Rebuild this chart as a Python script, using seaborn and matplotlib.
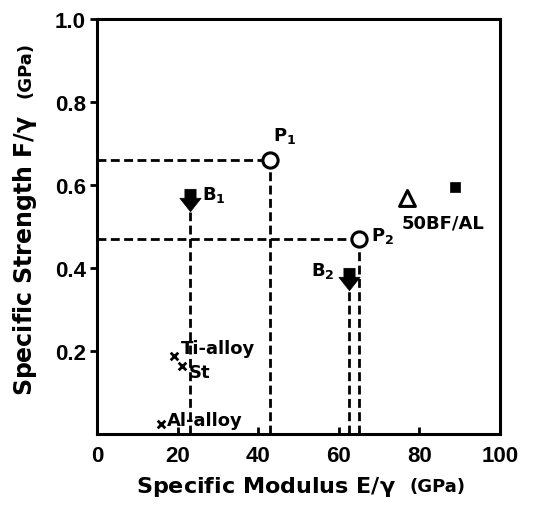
import matplotlib
matplotlib.use("Agg")
import matplotlib.pyplot as plt
import seaborn as sns
import pandas as pd
from matplotlib.path import Path

# ---- data ----
names = ["P1", "P2", "B1", "B2", "50BF/AL", "BF", "Ti-alloy", "St", "Al-alloy"]
modulus = [43, 65, 23, 62.5, 77, 89, 19, 21, 16]
strength = [0.66, 0.47, 0.565, 0.375, 0.57, 0.595, 0.188, 0.164, 0.024]
kinds = ["circle", "circle", "arrow", "arrow", "triangle", "square", "cross", "cross", "cross"]
labels = ["P$_\\mathbf{1}$", "P$_\\mathbf{2}$", "B$_\\mathbf{1}$", "B$_\\mathbf{2}$", "50BF/AL", "", "Ti-alloy", "St", "Al-alloy"]
xticks = [0, 20, 40, 60, 80, 100]
yticks = [0.2, 0.4, 0.6, 0.8, 1.0]

df = pd.DataFrame({"name": names, "E": modulus, "F": strength, "kind": kinds})

sns.set_style("ticks")
plt.rcParams["font.family"] = ["Liberation Sans", "DejaVu Sans"]
plt.rcParams["font.weight"] = "bold"
plt.rcParams["mathtext.default"] = "bf"
plt.rcParams["mathtext.fontset"] = "dejavusans"
for key in ["text.color", "axes.labelcolor", "xtick.color", "ytick.color", "axes.edgecolor"]:
    plt.rcParams[key] = "black"

fig = plt.figure(figsize=(5.48, 5.06), dpi=100)
ax = fig.add_axes([0.177, 0.140, 0.735, 0.820])

arrow = Path([(-0.5, 1.0), (0.5, 1.0), (0.5, 0.2), (0.95, 0.2), (0.0, -1.0),
              (-0.95, 0.2), (-0.5, 0.2), (-0.5, 1.0)],
             [Path.MOVETO] + [Path.LINETO] * 6 + [Path.CLOSEPOLY])

style_map = {
    "circle": dict(marker="o", s=120, facecolor="white", edgecolor="black", linewidth=2.2),
    "arrow": dict(marker=arrow, s=260, facecolor="black", edgecolor="black", linewidth=0.5),
    "triangle": dict(marker="^", s=130, facecolor="white", edgecolor="black", linewidth=2.2),
    "square": dict(marker="s", s=60, facecolor="black", edgecolor="black", linewidth=0.5),
    "cross": dict(marker="x", s=30, facecolor="black", edgecolor="black", linewidth=2.0),
}

# dashed guide lines (drawn first, under markers)
dash = dict(color="black", linestyle=(0, (3.2, 1.6)), linewidth=2.0, zorder=1)
for n in ["P1", "P2"]:
    r = df[df.name == n].iloc[0]
    ax.plot([0, r.E], [r.F, r.F], **dash)
    ax.plot([r.E, r.E], [0, r.F], **dash)
for n in ["B1", "B2"]:
    r = df[df.name == n].iloc[0]
    ax.plot([r.E, r.E], [0, r.F - 0.03], **dash)

for k, st in style_map.items():
    sub = df[df.kind == k]
    sns.scatterplot(data=sub, x="E", y="F", ax=ax, zorder=3, legend=False, **st)

# text annotations
offsets = {
    "P1": (2, 18, "left"), "P2": (9, 3, "left"), "B1": (9, 4, "left"),
    "B2": (-10, 6, "right"), "50BF/AL": (-4, -18, "left"),
    "Ti-alloy": (5, 6, "left"), "St": (5, -4, "left"), "Al-alloy": (4, 3, "left"),
}
for n, lab in zip(names, labels):
    if n not in offsets:
        continue
    r = df[df.name == n].iloc[0]
    dx, dy, ha = offsets[n]
    ax.annotate(lab, (r.E, r.F), xytext=(dx, dy), textcoords="offset points",
                ha=ha, va="center", fontsize=13, fontweight="bold",
                family=["DejaVu Sans"], color="black")

ax.set_xlim(0, 100)
ax.set_ylim(0, 1.0)
ax.set_xticks(xticks)
ax.set_xticklabels([str(t) for t in xticks])
ax.set_yticks(yticks)
ax.set_yticklabels([f"{t:.1f}" for t in yticks])
ax.tick_params(axis="x", direction="in", length=5, width=2, labelsize=16, pad=8, colors="black")
ax.tick_params(axis="y", direction="out", length=5, width=2, labelsize=16, pad=3, colors="black")
for lab in ax.get_xticklabels() + ax.get_yticklabels():
    lab.set_fontweight("bold")
for sp in ax.spines.values():
    sp.set_linewidth(2.2)
    sp.set_color("black")
    sp.set_visible(True)

ax.set_xlabel("")
ax.set_ylabel("")
fig.text(0.722, 0.038, "Specific Modulus E/$\\mathbf{\\gamma}$", ha="right", va="center",
         fontsize=16, fontweight="bold", family=["DejaVu Sans"], color="black")
fig.text(0.798, 0.038, "(GPa)", ha="center", va="center", fontsize=13, fontweight="bold",
         family=["DejaVu Sans"], color="black")
fig.text(0.046, 0.496, "Specific Strength F/$\\mathbf{\\gamma}$", ha="center", va="center",
         rotation=90, fontsize=17, fontweight="bold", family=["DejaVu Sans"], color="black")
fig.text(0.046, 0.862, "(GPa)", ha="center", va="center", rotation=90,
         fontsize=13, fontweight="bold", family=["DejaVu Sans"], color="black")

fig.savefig("out.png", dpi=100)
